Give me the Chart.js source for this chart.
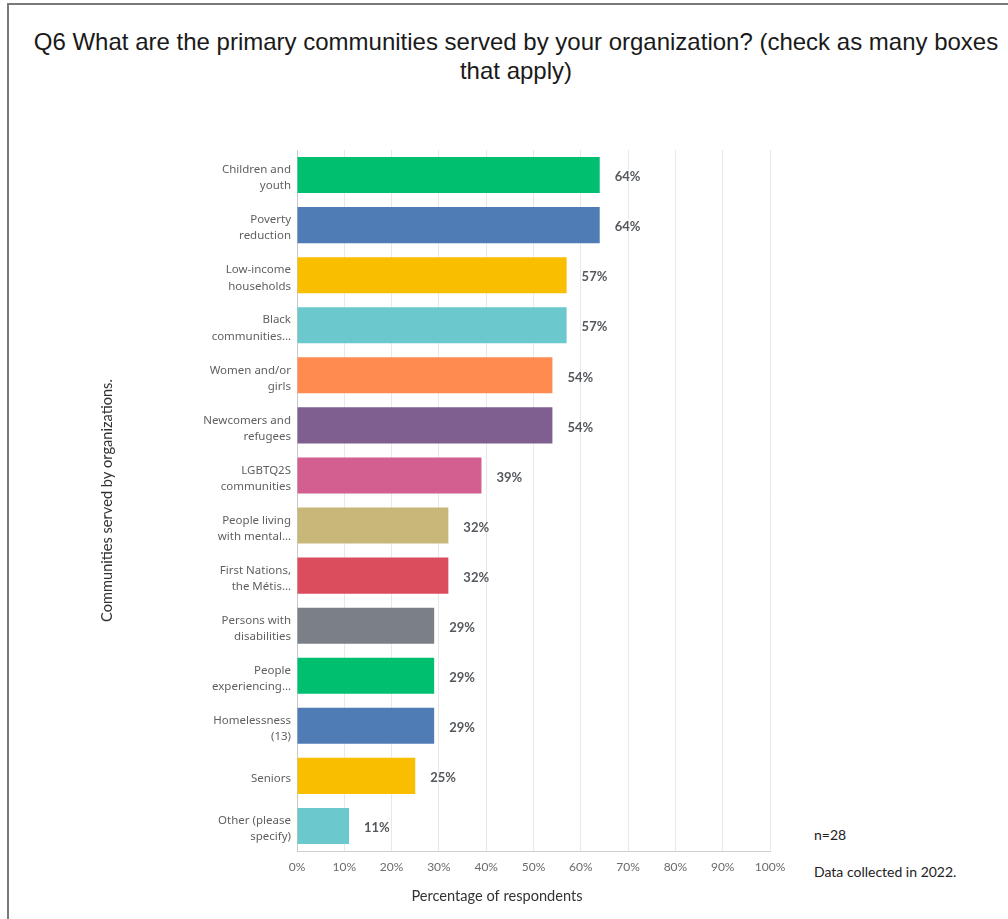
<!DOCTYPE html>
<html>
<head>
<meta charset="utf-8">
<title>Q6 Communities served</title>
<script src="https://cdn.jsdelivr.net/npm/chart.js@4/dist/chart.umd.min.js"></script>
<style>
  body { margin: 0; background: #fff; overflow: hidden; }
  #frame {
    position: absolute; left: 7px; top: 3px; width: 1100px; height: 1000px;
    border-left: 2px solid #7a7a7a; border-top: 2px solid #7a7a7a;
  }
  #title {
    position: absolute; left: 0; top: 27px; width: 1032px;
    text-align: center; white-space: nowrap;
    font-family: "Liberation Sans", Arial, sans-serif; font-size: 24px; line-height: 29px;
    color: #1a1a1a;
  }
  .note {
    position: absolute; left: 814px;
    font-family: Lato, sans-serif; font-size: 14px; color: #222;
  }
  #wrap { position: absolute; left: 95px; top: 110px; width: 700px; height: 800px; }
</style>
</head>
<body>
<div id="frame"></div>
<div id="title">Q6 What are the primary communities served by your organization? (check as many boxes<br>that apply)</div>
<div class="note" style="top:826px">n=28</div>
<div class="note" style="top:863px">Data collected in 2022.</div>
<div id="wrap"><canvas id="myChart" width="700" height="800"></canvas></div>

<script>
'use strict';

const categories = [
  ['Children and', 'youth'],
  ['Poverty', 'reduction'],
  ['Low-income', 'households'],
  ['Black', 'communities…'],
  ['Women and/or', 'girls'],
  ['Newcomers and', 'refugees'],
  ['LGBTQ2S', 'communities'],
  ['People living', 'with mental…'],
  ['First Nations,', 'the Métis…'],
  ['Persons with', 'disabilities'],
  ['People', 'experiencing…'],
  ['Homelessness', '(13)'],
  'Seniors',
  ['Other (please', 'specify)'],
];

// percent of respondents
const percents = [64, 64, 57, 57, 54, 54, 39, 32, 32, 29, 29, 29, 25, 11];

const palette = ['#00bf6f', '#507cb6', '#f9be00', '#6bc8cd', '#ff8b4f', '#7f5f90',
  '#d25f90', '#c7b879', '#db4d5c', '#7a8085'];
const barColors = categories.map((c, i) => palette[i % palette.length]);

const xTitle = 'Percentage of respondents';
const yTitle = 'Communities served by organizations.';

// percent text to the right of each bar
const valueLabels = {
  id: 'valueLabels',
  afterDatasetsDraw(chart) {
    const ctx = chart.ctx;
    const meta = chart.getDatasetMeta(0);
    ctx.save();
    ctx.font = 'bold 13px Lato, sans-serif';
    ctx.fillStyle = '#55595e';
    ctx.textAlign = 'left';
    ctx.textBaseline = 'middle';
    meta.data.forEach((bar, i) => {
      ctx.fillText(percents[i] + '%', bar.x + 15, bar.y + 2);
    });
    ctx.restore();
  }
};

// x axis title sits a little left of the plot centre
const bottomTitle = {
  id: 'bottomTitle',
  afterDraw(chart) {
    const ctx = chart.ctx;
    ctx.save();
    ctx.font = '14.6px Lato, sans-serif';
    ctx.fillStyle = '#333';
    ctx.textAlign = 'center';
    ctx.textBaseline = 'middle';
    ctx.fillText(xTitle, 402, 786);
    ctx.restore();
  }
};

const ctx = document.getElementById('myChart').getContext('2d');
const chart = new Chart(ctx, {
  type: 'bar',
  data: {
    labels: categories,
    datasets: [{
      data: percents,
      backgroundColor: barColors,
      barPercentage: 0.72,
      categoryPercentage: 1,
    }]
  },
  options: {
    indexAxis: 'y',
    responsive: false,
    animation: false,
    layout: { padding: { top: 40, right: 25, bottom: 0, left: 0 } },
    plugins: {
      legend: { display: false },
      tooltip: { enabled: false },
    },
    scales: {
      x: {
        min: 0,
        max: 100,
        afterFit(scale) { scale.height = 59; },
        grid: { color: '#e8e8e8', drawTicks: false },
        border: { color: '#cfcfcf' },
        ticks: {
          stepSize: 10,
          padding: 9,
          color: '#6b6b6b',
          font: { family: 'Lato, sans-serif', size: 12 },
          callback: v => v + '%',
        },
      },
      y: {
        afterFit(scale) { scale.width = 202; },
        grid: { display: false, drawTicks: false },
        border: { color: '#c8c8c8' },
        ticks: {
          padding: 6,
          labelOffset: 3,
          color: '#5f5f5f',
          font: { family: '"Noto Sans", sans-serif', size: 11.5, lineHeight: 1.4 },
        },
        title: {
          display: true,
          text: yTitle,
          color: '#333',
          font: { family: 'Lato, sans-serif', size: 14.6 },
        },
      },
    },
  },
  plugins: [valueLabels, bottomTitle],
});
</script>
</body>
</html>
